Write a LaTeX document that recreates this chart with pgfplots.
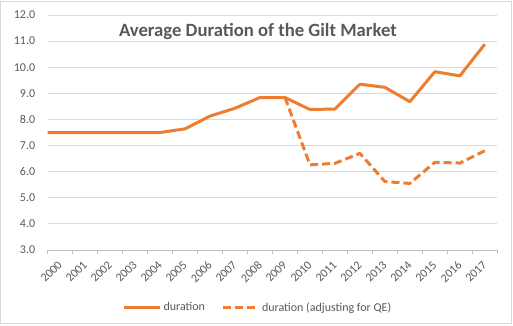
\documentclass[border=0pt]{standalone}
\usepackage{fontspec}
\setmainfont{Carlito}
\usepackage{pgfplots}
\pgfplotsset{compat=1.18}
\definecolor{lineorange}{HTML}{ED7D31}
\definecolor{txtgray}{HTML}{595959}
\definecolor{gridgray}{HTML}{D9D9D9}
\definecolor{axgray}{HTML}{BFBFBF}
\begin{document}
\begin{tikzpicture}
\useasboundingbox (-47.7pt,-75pt) rectangle (465.3pt,250pt);
\draw[gridgray, line width=1pt] (-46.7pt,-73.7pt) rectangle (463.3pt,248.7pt);
\begin{axis}[
  scale only axis,
  width=449.6pt, height=235pt,
  xmin=-0.5, xmax=17.5,
  ymin=3, ymax=12,
  ytick={3,4,...,12},
  xtick={0,1,...,17},
  xticklabels={2000,2001,2002,2003,2004,2005,2006,2007,2008,2009,2010,2011,2012,2013,2014,2015,2016,2017},
  minor xtick={-0.5,0.5,...,17.5},
  major tick length=0pt,
  minor tick length=4pt,
  tick align=outside,
  minor tick style={axgray, line width=0.8pt},
  axis x line*=bottom,
  axis y line*=left,
  x axis line style={axgray, line width=1pt},
  y axis line style={draw=none},
  ymajorgrids,
  grid style={gridgray, line width=1pt},
  /pgf/number format/assume math mode=true,
  /pgf/number format/.cd, fixed, fixed zerofill, precision=1, /pgfplots/.cd,
  yticklabel style={font=\fontsize{12}{14}\selectfont, text=txtgray, xshift=-9pt},
  xticklabel style={font=\fontsize{12}{14}\selectfont, text=txtgray, xshift=-3pt, yshift=-10pt, rotate=45, anchor=north east, inner sep=0pt},
  title={Average Duration of the Gilt Market},
  title style={font=\fontsize{18.7}{22}\selectfont\bfseries, text=txtgray, at={(0.4675,0.905)}, anchor=center, yshift=0pt},
  legend style={draw=none, fill=none, legend columns=2, at={(0.4675,-0.245)}, anchor=center,
    font=\fontsize{12}{14}\selectfont, text=txtgray,
    /tikz/every even column/.append style={column sep=14pt}},
  legend image code/.code={\draw[#1] (0pt,0pt) -- (36pt,0pt);},
  clip=false,
]
\addplot[lineorange, line width=3pt, line join=round] coordinates {
(-0.5,7.5) (0,7.5) (1,7.5) (2,7.5) (3,7.5) (4,7.5) (5,7.64) (6,8.13) (7,8.43) (8,8.84)
(9,8.84) (10,8.38) (11,8.4) (12,9.35) (13,9.23) (14,8.68) (15,9.83) (16,9.67) (17,10.88)};
\addlegendentry{duration}
\addplot[lineorange, line width=3pt, line join=round, dash pattern=on 8pt off 4pt] coordinates {
(9,8.84) (10,6.26) (11,6.32) (12,6.7) (13,5.62) (14,5.55) (15,6.36) (16,6.33) (17,6.8)};
\addlegendentry{duration (adjusting for QE)}
\end{axis}
\end{tikzpicture}
\end{document}
